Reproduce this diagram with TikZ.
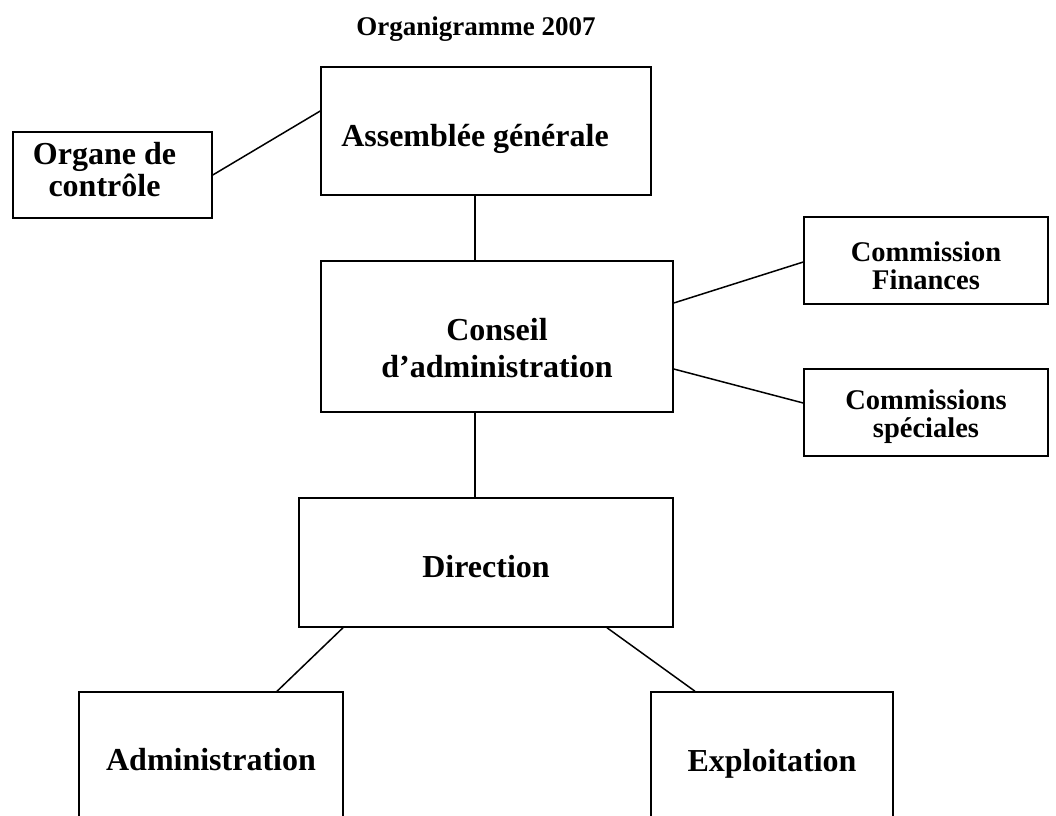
\documentclass[tikz,border=0pt]{standalone}
\usepackage{fontspec}
\setmainfont{Liberation Serif}
\usepackage{tikz}
\usetikzlibrary{positioning}

\tikzset{
  orgbox/.style = {draw, line width=1.5pt, inner sep=0pt},
  orgtext/.style = {align=center, inner sep=0pt, font=\fontsize{32}{37}\selectfont\bfseries},
  smalltext/.style = {orgtext, font=\fontsize{28.5}{28.5}\selectfont\bfseries},
  link/.style = {line width=1.5pt}
}

\begin{document}
\begin{tikzpicture}[x=1pt, y=-1pt]
    \clip (0,0) rectangle (1056,815);
    \node [font=\fontsize{27}{32}\selectfont\bfseries] (titre) at (476,29) {Organigramme 2007};

    % cadres
    \node [orgbox, minimum width=330, minimum height=128] (assemblee) at (486,131) {};
    \node [orgbox, minimum width=199, minimum height=86] (organe) at (112.5,175) {};
    \node [orgbox, minimum width=352, minimum height=151] (conseil) at (497,336.5) {};
    \node [orgbox, minimum width=244, minimum height=87] (finances) at (926,260.5) {};
    \node [orgbox, minimum width=244, minimum height=87] (speciales) at (926,412.5) {};
    \node [orgbox, minimum width=374, minimum height=129] (direction) at (486,562.5) {};
    \node [orgbox, minimum width=264, minimum height=136] (admin) at (211,760) {};
    \node [orgbox, minimum width=242, minimum height=136] (exploit) at (772,760) {};

    % textes
    \node [orgtext] (assemblee-t) at ([xshift=-11, yshift=-8]assemblee.center) {Assemblée générale};
    \node [orgtext, font=\fontsize{32}{32}\selectfont\bfseries] (organe-t) at ([xshift=-8, yshift=5]organe.center) {Organe de\\ contrôle};
    \node [orgtext] (conseil-t) at ([yshift=-12]conseil.center) {Conseil\\ d’administration};
    \node [smalltext] (finances-t) at ([yshift=-5]finances.center) {Commission\\ Finances};
    \node [smalltext] (speciales-t) at ([yshift=-4]speciales.center) {Commissions\\ spéciales};
    \node [orgtext] (direction-t) at ([yshift=-4]direction.center) {Direction};
    \node [orgtext] (admin-t) at (admin.center) {Administration};
    \node [orgtext] (exploit-t) at ([yshift=-4]exploit.center) {Exploitation};

    % liaisons
    \coordinate (axe) at (475,0);
    \draw [link] (organe.east) -- (assemblee.west |- 0,111);
    \draw [link] (assemblee.south -| axe) -- (conseil.north -| axe);
    \draw [link] (conseil.east |- 0,303) -- (finances.west |- 0,262);
    \draw [link] (conseil.east |- 0,369) -- (speciales.west |- 0,403);
    \draw [link] (conseil.south -| axe) -- (direction.north -| axe);
    \draw [link] (direction.south -| 343,0) -- (admin.north -| 277,0);
    \draw [link] (direction.south -| 607,0) -- (exploit.north -| 695,0);
\end{tikzpicture}
\end{document}
